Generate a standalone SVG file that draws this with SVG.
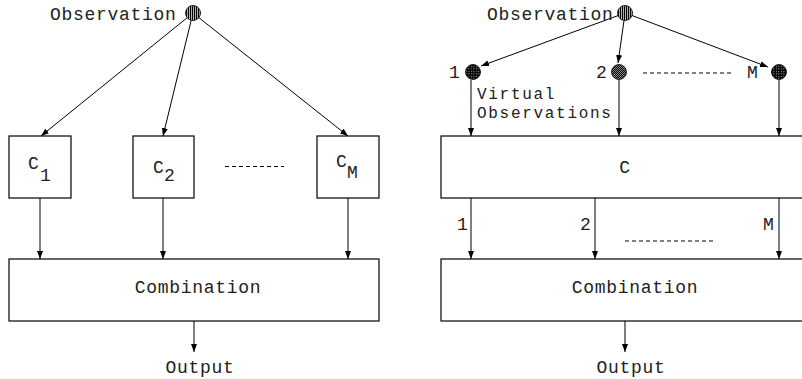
<svg xmlns="http://www.w3.org/2000/svg" width="802" height="379" viewBox="0 0 802 379">
  <style>
    .box { fill: #fff; stroke: #000; stroke-width: 1.2; }
    .edge { fill: none; stroke: #000; stroke-width: 1; marker-end: url(#arrow); }
    .dash { fill: none; stroke: #000; stroke-width: 1; stroke-dasharray: 4 3; }
    text { font-family: "Liberation Mono", "Courier New", monospace; font-size: 18px; letter-spacing: 0.7px; fill: #222; }
    .mid { text-anchor: middle; }
    .small { font-size: 16px; letter-spacing: 1.7px; }
  </style>
  <defs>
    <marker id="arrow" viewBox="0 0 8 6" refX="8" refY="3" markerWidth="8" markerHeight="6" markerUnits="userSpaceOnUse" orient="auto">
      <path d="M0,0 L8,3 L0,6 z" fill="#000"/>
    </marker>
    <!-- vertical hatching for the observation node -->
    <pattern id="stripes" width="2" height="2" patternUnits="userSpaceOnUse">
      <rect width="2" height="2" fill="#000"/>
      <rect x="1" width="0.7" height="2" fill="#fff"/>
    </pattern>
    <!-- dotted fill for virtual observations -->
    <pattern id="dots" width="2.5" height="2.5" patternUnits="userSpaceOnUse">
      <rect width="2.5" height="2.5" fill="#000"/>
      <rect x="1" y="1" width="0.9" height="0.9" fill="#fff"/>
    </pattern>
    <pattern id="checks" width="2" height="2" patternUnits="userSpaceOnUse">
      <rect width="2" height="2" fill="#000"/>
      <rect width="1" height="1" fill="#888"/>
      <rect x="1" y="1" width="1" height="1" fill="#888"/>
    </pattern>
  </defs>

  <!-- ===== Left: M separate classifiers ===== -->
  <g id="connectors-left">
    <line class="edge" x1="187.2" y1="17.7" x2="41" y2="136"/>
    <line class="edge" x1="191.2" y1="20.3" x2="163" y2="136"/>
    <line class="edge" x1="198.9" y1="17.7" x2="348" y2="136"/>
    <line class="edge" x1="40" y1="198" x2="40" y2="259"/>
    <line class="edge" x1="163" y1="198" x2="163" y2="259"/>
    <line class="edge" x1="348" y1="198" x2="348" y2="259"/>
    <line class="edge" x1="194" y1="321" x2="194" y2="352"/>
    <line class="dash" x1="225" y1="166.5" x2="284" y2="166.5"/>
  </g>

  <g id="observation-left">
    <circle cx="193" cy="13" r="7.5" fill="url(#stripes)" stroke="#000" stroke-width="0.8"/>
    <text x="50" y="20">Observation</text>
  </g>

  <g id="c1">
    <rect class="box" x="9" y="136" width="62" height="62"/>
    <text x="28" y="169">C</text>
    <text x="40" y="181">1</text>
  </g>
  <g id="c2">
    <rect class="box" x="133" y="136" width="61" height="62"/>
    <text x="153" y="173">C</text>
    <text x="164" y="181">2</text>
  </g>
  <g id="cM">
    <rect class="box" x="317" y="136" width="62" height="62"/>
    <text x="336" y="167">C</text>
    <text x="347" y="178">M</text>
  </g>

  <g id="combination-left">
    <rect class="box" x="9" y="259" width="370" height="62"/>
    <text class="mid" x="198" y="293">Combination</text>
  </g>
  <g id="output-left">
    <text class="mid" x="200" y="373">Output</text>
  </g>

  <!-- ===== Right: one classifier fed with virtual observations ===== -->
  <g id="connectors-right">
    <line class="edge" x1="618" y1="15.6" x2="481" y2="66"/>
    <line class="edge" x1="624" y1="20.5" x2="618" y2="63"/>
    <line class="edge" x1="632" y1="15.5" x2="768" y2="67"/>
    <line class="edge" x1="471" y1="80" x2="471" y2="136"/>
    <line class="edge" x1="619" y1="80" x2="619" y2="136"/>
    <line class="edge" x1="779" y1="80" x2="779" y2="136"/>
    <line class="edge" x1="471" y1="198" x2="471" y2="259"/>
    <line class="edge" x1="595" y1="198" x2="595" y2="259"/>
    <line class="edge" x1="779" y1="198" x2="779" y2="259"/>
    <line class="edge" x1="625" y1="321" x2="625" y2="352"/>
    <line class="dash" x1="643" y1="73" x2="734" y2="73"/>
    <line class="dash" x1="625" y1="241" x2="715" y2="241"/>
    <text x="457" y="230">1</text>
    <text x="580" y="230">2</text>
    <text x="763" y="230">M</text>
  </g>

  <g id="observation-right">
    <circle cx="625" cy="13" r="7.5" fill="url(#stripes)" stroke="#000" stroke-width="0.8"/>
    <text x="487" y="20">Observation</text>
  </g>

  <g id="virtual-1">
    <circle cx="473" cy="72" r="7.5" fill="url(#dots)" stroke="#000" stroke-width="0.8"/>
    <text x="449" y="78">1</text>
  </g>
  <g id="virtual-2">
    <circle cx="619" cy="72" r="7.5" fill="url(#checks)" stroke="#000" stroke-width="0.8"/>
    <text x="596" y="78">2</text>
  </g>
  <g id="virtual-M">
    <circle cx="779" cy="72" r="7.5" fill="url(#dots)" stroke="#000" stroke-width="0.8"/>
    <text x="747" y="78">M</text>
  </g>
  <g id="virtual-label">
    <text class="small" x="477" y="99">Virtual</text>
    <text class="small" x="477" y="118">Observations</text>
  </g>

  <g id="c-shared">
    <rect class="box" x="441" y="136" width="370" height="62"/>
    <text class="mid" x="625" y="173">C</text>
  </g>

  <g id="combination-right">
    <rect class="box" x="441" y="259" width="370" height="62"/>
    <text class="mid" x="635" y="293">Combination</text>
  </g>
  <g id="output-right">
    <text class="mid" x="631" y="373">Output</text>
  </g>
</svg>
